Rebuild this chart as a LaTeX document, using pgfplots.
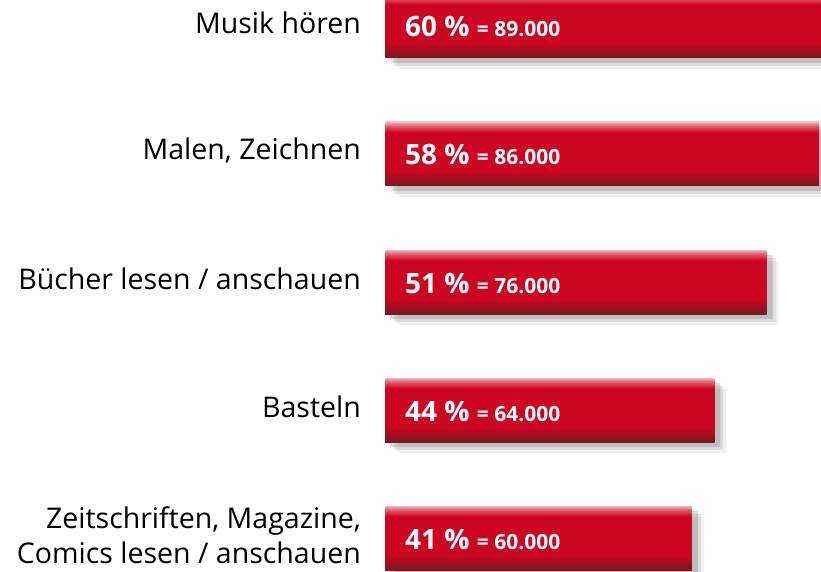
\documentclass[border=0pt]{standalone}
\usepackage{pgfplots}
\pgfplotsset{compat=1.18}
\usepackage{fontspec}
\setmainfont{Open Sans}
\definecolor{barmain}{HTML}{CC0620}
\definecolor{bartop}{HTML}{F0B4BC}
\definecolor{barhi}{HTML}{E2606F}
\definecolor{bardark}{HTML}{A0101E}
\definecolor{barbot}{HTML}{7E1620}
\pgfdeclareverticalshading{barshade}{100bp}{color(0bp)=(barbot); color(25bp)=(barbot); color(31bp)=(bardark); color(36bp)=(barmain); color(67bp)=(barmain); color(72bp)=(barhi); color(75bp)=(bartop); color(100bp)=(bartop)}
\begin{document}
\begin{tikzpicture}
\begin{axis}[
  at={(385pt,-31pt)}, anchor=south west,
  scale only axis, width=449pt, height=640pt,
  xmin=0, xmax=60, ymin=-0.5, ymax=4.5,
  xbar, bar width=64pt, bar shift=0pt,
  axis line style={draw=none}, xtick=\empty,
  ytick={0,1,2,3,4},
  yticklabels={{Zeitschriften, Magazine,\\Comics lesen / anschauen},{Basteln},{Bücher lesen / anschauen},{Malen, Zeichnen},{Musik hören}},
  major tick length=0pt,
  yticklabel style={align=right, font=\fontsize{28.5}{35}\selectfont, text=black, inner sep=0pt, xshift=-24pt, yshift=3pt},
  clip=false,
]
\addplot[draw=none, fill=black, opacity=0.05, xshift=12pt, yshift=-11pt] coordinates {(41,0) (44,1) (51,2) (58,3) (60,4)};
\addplot[draw=none, fill=black, opacity=0.09, xshift=9pt, yshift=-8pt] coordinates {(41,0) (44,1) (51,2) (58,3) (60,4)};
\addplot[draw=none, fill=black, opacity=0.14, xshift=6pt, yshift=-5pt] coordinates {(41,0) (44,1) (51,2) (58,3) (60,4)};
\addplot[draw=none, shading=barshade] coordinates {(41,0)};
\addplot[draw=none, shading=barshade] coordinates {(44,1)};
\addplot[draw=none, shading=barshade] coordinates {(51,2)};
\addplot[draw=none, shading=barshade] coordinates {(58,3)};
\addplot[draw=none, shading=barshade] coordinates {(60,4)};
\foreach \y/\p/\n in {0/41/60.000,1/44/64.000,2/51/76.000,3/58/86.000,4/60/89.000}{
  \edef\tmp{\noexpand\node[anchor=base west, text=white, inner sep=0pt] at (axis cs:0,\y) [xshift=20pt, yshift=-11pt] {\noexpand\fontsize{28}{30}\noexpand\selectfont\noexpand\bfseries \p{} \noexpand\% \noexpand\fontsize{21}{22}\noexpand\selectfont = \n};}
  \tmp
}
\end{axis}
\pgfresetboundingbox
\useasboundingbox (0,0) rectangle (821pt,571pt);
\end{tikzpicture}
\end{document}
